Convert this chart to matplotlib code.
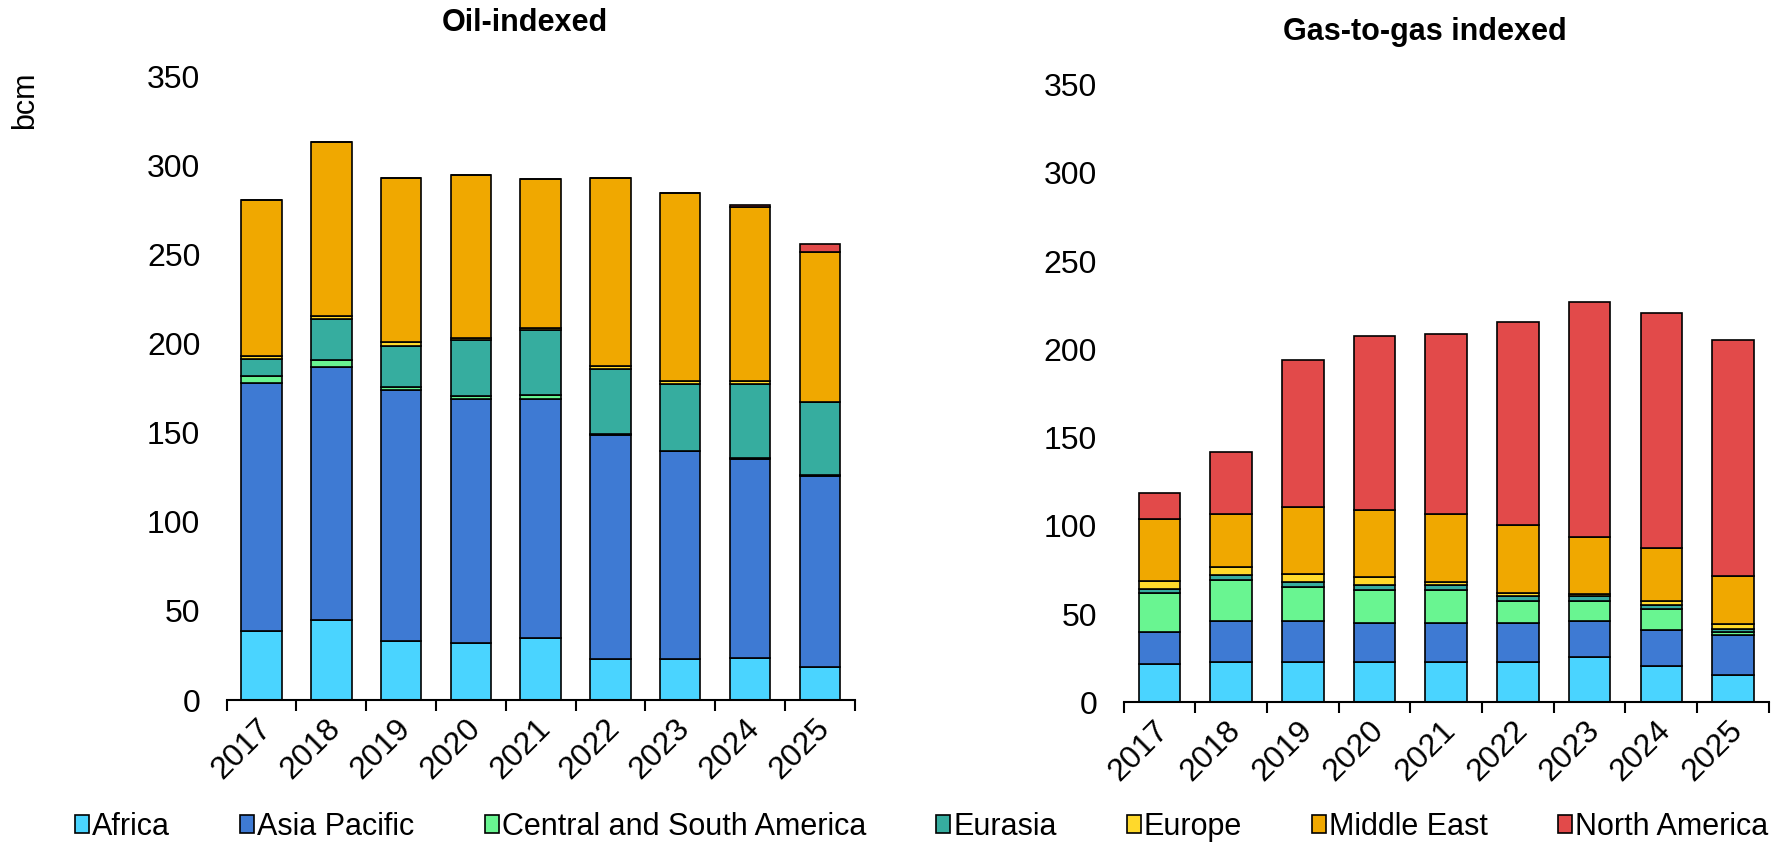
import matplotlib
matplotlib.use("Agg")
import matplotlib.pyplot as plt
import matplotlib.transforms as mtransforms
from matplotlib.patches import Patch
import numpy as np

plt.rcParams['font.family'] = ['Liberation Sans', 'DejaVu Sans']

years = ['2017', '2018', '2019', '2020', '2021', '2022', '2023', '2024', '2025']
regions = ['Africa', 'Asia Pacific', 'Central and South America', 'Eurasia',
           'Europe', 'Middle East', 'North America']
colors = ['#4AD4FF', '#3E7AD3', '#69F591', '#36AD9F', '#FFD92B', '#F0A800', '#E24A4A']

# Oil-indexed volumes (bcm)
oil_africa = [38.5, 45.0, 33.0, 32.0, 35.0, 23.0, 23.0, 23.5, 18.5]
oil_asia = [139.5, 141.8, 141.0, 137.0, 134.3, 126.0, 116.6, 112.0, 107.5]
oil_csa = [4.0, 3.9, 2.0, 1.6, 1.7, 0.5, 0.5, 0.5, 0.3]
oil_eurasia = [9.5, 23.3, 23.0, 31.4, 36.6, 36.6, 37.2, 41.5, 41.0]
oil_europe = [1.5, 1.6, 2.0, 1.5, 1.4, 1.6, 1.7, 1.5, 0.3]
oil_mideast = [87.5, 97.6, 92.0, 91.5, 83.6, 105.3, 105.6, 97.8, 84.0]
oil_namerica = [0.0, 0.0, 0.0, 0.0, 0.0, 0.0, 0.0, 1.3, 4.3]

# Gas-to-gas indexed volumes (bcm)
g2g_africa = [21.7, 23.1, 23.1, 23.1, 23.1, 23.1, 25.5, 20.4, 15.7]
g2g_asia = [18.2, 23.2, 23.2, 21.7, 21.7, 21.7, 20.4, 20.6, 22.5]
g2g_csa = [21.9, 22.9, 19.1, 18.9, 18.9, 12.9, 11.4, 11.7, 1.5]
g2g_eurasia = [2.3, 3.0, 3.0, 3.0, 3.0, 2.6, 3.0, 2.7, 1.9]
g2g_europe = [4.7, 4.4, 4.4, 4.6, 1.7, 1.5, 1.1, 1.9, 2.8]
g2g_mideast = [35.0, 30.4, 37.8, 37.8, 38.2, 38.6, 32.6, 30.0, 27.1]
g2g_namerica = [14.7, 34.8, 83.5, 98.5, 101.9, 115.3, 133.0, 133.1, 133.6]

oil_series = [oil_africa, oil_asia, oil_csa, oil_eurasia, oil_europe, oil_mideast, oil_namerica]
g2g_series = [g2g_africa, g2g_asia, g2g_csa, g2g_eurasia, g2g_europe, g2g_mideast, g2g_namerica]

FS = 23


def stacked_bars(fig, ax, series):
    x = np.arange(len(years))
    bottom = np.zeros(len(years))
    for vals, col in zip(series, colors):
        vals = np.array(vals)
        ax.bar(x, vals, 0.58, bottom=bottom, color=col, edgecolor='black', linewidth=1.2)
        bottom += vals
    ax.set_xlim(-0.5, len(years) - 0.5)
    ax.set_ylim(0, 350)
    ax.set_yticks(np.arange(0, 351, 50))
    ax.set_xticks(x)
    ax.set_xticklabels(years, rotation=45, ha='right', va='center', rotation_mode='anchor')
    ax.set_xticks(np.arange(-0.5, len(years)), minor=True)
    ax.tick_params(axis='x', which='major', length=0, pad=17, labelsize=FS)
    ax.tick_params(axis='x', which='minor', length=8, width=1.5, direction='out')
    ax.tick_params(axis='y', length=0, pad=19, labelsize=FS)
    # nudge the rotated year labels a little to the right
    shift = mtransforms.ScaledTranslation(5 / 100, 0, fig.dpi_scale_trans)
    for lab in ax.get_xticklabels():
        lab.set_transform(lab.get_transform() + shift)
    for s in ['left', 'top', 'right']:
        ax.spines[s].set_visible(False)
    ax.spines['bottom'].set_linewidth(1.5)


fig = plt.figure(figsize=(17.71, 8.43), dpi=100)
ax1 = fig.add_axes([0.128, 0.1696, 0.3546, 0.7394])
ax2 = fig.add_axes([0.6344, 0.1667, 0.3644, 0.7328])

stacked_bars(fig, ax1, oil_series)
stacked_bars(fig, ax2, g2g_series)

fig.text(525 / 1771, 1 - 23 / 843, 'Oil-indexed', ha='center', va='center',
         fontsize=22, fontweight='bold')
fig.text(1425 / 1771, 1 - 32 / 843, 'Gas-to-gas indexed', ha='center', va='center',
         fontsize=22, fontweight='bold')
fig.text(25 / 1771, 1 - 100 / 843, 'bcm', rotation=90, ha='center', va='center', fontsize=22)

handles = [Patch(facecolor=c, edgecolor='black', linewidth=1.2) for c in colors]
fig.legend(handles, regions, loc='center', bbox_to_anchor=(0.5205, 1 - 827 / 843),
           ncol=7, frameon=False, fontsize=22, handlelength=0.45, handleheight=0.5,
           handletextpad=0.1, columnspacing=2.3, borderaxespad=0, borderpad=0)

plt.savefig('out.png', dpi=100)
